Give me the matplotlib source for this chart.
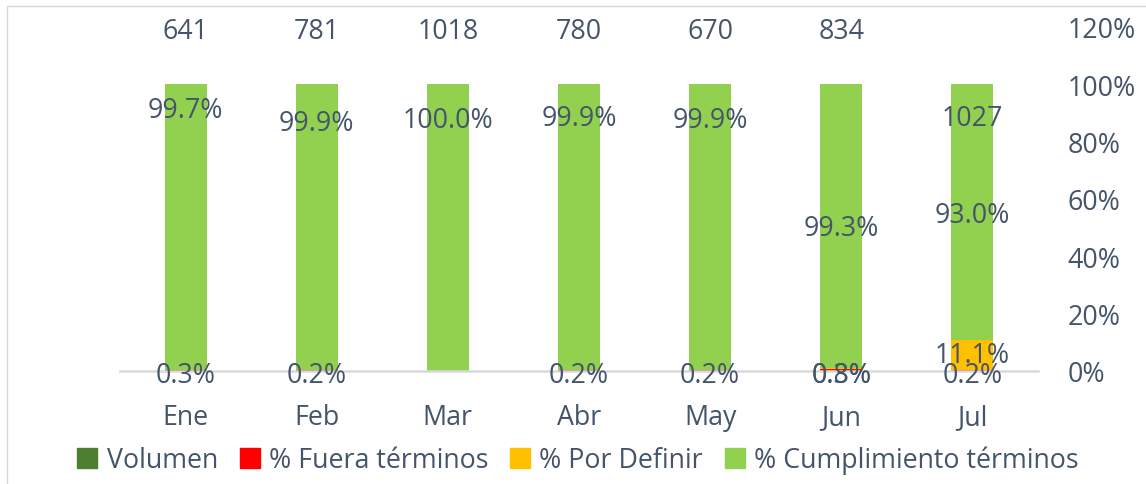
import matplotlib
matplotlib.use("Agg")
import matplotlib.pyplot as plt
from matplotlib.patches import Rectangle, Patch
import numpy as np

# ---- data ----
months = ['Ene', 'Feb', 'Mar', 'Abr', 'May', 'Jun', 'Jul']
volumen = [641, 781, 1018, 780, 670, 834, 1027]
fuera = [0.3, 0.2, 0.0, 0.2, 0.2, 0.8, 0.2]
por_definir = [0.0, 0.0, 0.0, 0.0, 0.0, 0.3, 11.1]
cumplimiento = [99.7, 99.9, 100.0, 99.9, 99.9, 99.3, 93.0]
yticks = [0, 20, 40, 60, 80, 100, 120]

# ---- styling / label placement (not data) ----
TXT = '#44546A'
C_VOL = '#4E7F2E'
C_FUERA = '#FF0000'
C_PD = '#FFC000'
C_CUMP = '#92D050'
FONT = 'Open Sans'
FS = 19.3
cump_label_y = [91.0, 86.5, 87.5, 88.2, 87.5, 50.0, 54.5]
vol_label_y = [118.5, 118.5, 118.5, 118.5, 118.5, 118.5, 88.0]

plt.rcParams['font.family'] = [FONT, 'DejaVu Sans']

W, H = 1146, 485
fig = plt.figure(figsize=(W / 100, H / 100), dpi=100)
ax = fig.add_axes([120 / W, 1 - 372 / H, (1038 - 120) / W, 344.4 / H])

x = np.arange(len(months))
f = np.array(fuera)
p = np.array(por_definir)
c = np.array(cumplimiento)
tot = f + p + c
fs_ = f / tot * 100
ps_ = p / tot * 100
cs_ = c / tot * 100

bw = 0.32
ax.bar(x, fs_, bw, color=C_FUERA)
ax.bar(x, ps_, bw, bottom=fs_, color=C_PD)
ax.bar(x, cs_, bw, bottom=fs_ + ps_, color=C_CUMP)

ax.set_xlim(-0.5, len(months) - 0.5)
ax.set_ylim(0, 120)
ax.set_xticks(x)
ax.set_xticklabels(months, fontsize=FS, color=TXT)
ax.yaxis.tick_right()
ax.set_yticks(yticks)
ax.set_yticklabels([f'{v}%' for v in yticks], fontsize=FS, color=TXT)
ax.tick_params(axis='y', length=0, pad=21)
ax.tick_params(axis='x', length=0, pad=23)
for s in ['top', 'left', 'right']:
    ax.spines[s].set_visible(False)
ax.spines['bottom'].set_color('#D9D9D9')
ax.spines['bottom'].set_linewidth(1.8)

for i in range(len(months)):
    ax.text(x[i], vol_label_y[i], f'{volumen[i]}', ha='center', va='center',
            fontsize=FS, color=TXT)
    ax.text(x[i], cump_label_y[i], f'{cumplimiento[i]:.1f}%', ha='center',
            va='center', fontsize=FS, color=TXT)
    if fuera[i] > 0:
        ax.text(x[i], -1.3, f'{fuera[i]:.1f}%', ha='center', va='center',
                fontsize=FS, color=TXT)
    if por_definir[i] > 0:
        ypos = 5.5 if por_definir[i] > 5 else -1.3
        ax.text(x[i], ypos, f'{por_definir[i]:.1f}%', ha='center', va='center',
                fontsize=FS, color=TXT)

handles = [Patch(color=C_VOL, label='Volumen'),
           Patch(color=C_FUERA, label='% Fuera términos'),
           Patch(color=C_PD, label='% Por Definir'),
           Patch(color=C_CUMP, label='% Cumplimiento términos')]
leg = fig.legend(handles=handles, loc='center', bbox_to_anchor=(578 / W, 1 - 461 / H),
                 ncol=4, frameon=False, fontsize=FS, handlelength=0.75,
                 handleheight=0.75, handletextpad=0.35, columnspacing=0.8)
for t in leg.get_texts():
    t.set_color(TXT)

fig.patches.append(Rectangle((7 / W, -0.1), 1.2, 1 - 7 / H + 0.1,
                             transform=fig.transFigure, fill=False,
                             ec='#D9D9D9', lw=1.0))

fig.savefig('out.png', dpi=100)
